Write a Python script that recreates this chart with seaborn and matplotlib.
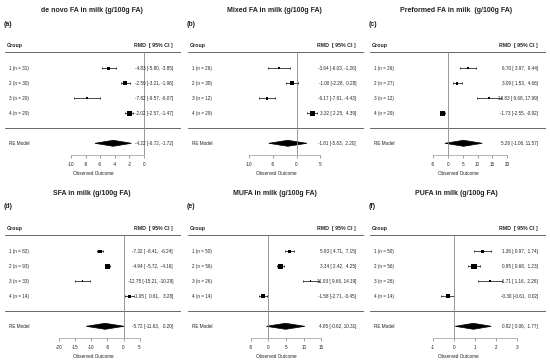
import numpy as np
import pandas as pd
import matplotlib
matplotlib.use("Agg")
import matplotlib.pyplot as plt
import matplotlib.transforms as mtransforms
from matplotlib.patches import Polygon
import seaborn as sns

sns.set_style("white")
plt.rcParams['font.family'] = ['Liberation Sans', 'DejaVu Sans']

# ---- data (RMD, 95% CI) ----
titles = ["de novo FA in milk (g/100g FA)", "Mixed FA in milk (g/100g FA)",
          "Preformed FA in milk  (g/100g FA)", "SFA in milk (g/100g FA)",
          "MUFA in milk (g/100g FA)", "PUFA in milk (g/100g FA)"]
tags = ["(a)", "(b)", "(c)", "(d)", "(e)", "(f)"]

n_denovo = [31, 30, 20, 29]
est_denovo = [-4.83, -2.59, -7.82, -2.02]
lo_denovo = [-5.80, -3.21, -9.57, -2.57]
hi_denovo = [-3.85, -1.96, -6.07, -1.47]
re_denovo = [-4.22, -6.72, -1.72]

n_mixed = [26, 30, 12, 29]
est_mixed = [-3.64, -1.00, -6.17, 3.32]
lo_mixed = [-6.03, -2.28, -7.91, 2.25]
hi_mixed = [-1.26, 0.28, -4.43, 4.39]
re_mixed = [-1.81, -5.83, 2.20]

n_pref = [26, 27, 12, 29]
est_pref = [6.70, 3.09, 13.83, -1.73]
lo_pref = [3.97, 1.53, 9.68, -2.55]
hi_pref = [9.44, 4.66, 17.99, -0.92]
re_pref = [5.26, -1.06, 11.57]

n_sfa = [82, 93, 33, 14]
est_sfa = [-7.32, -4.94, -12.75, 1.95]
lo_sfa = [-8.41, -5.72, -15.21, 0.61]
hi_sfa = [-6.24, -4.16, -10.29, 3.28]
re_sfa = [-5.72, -11.63, 0.20]

n_mufa = [50, 56, 26, 14]
est_mufa = [5.93, 3.34, 11.93, -1.58]
lo_mufa = [4.71, 2.42, 9.66, -2.71]
hi_mufa = [7.15, 4.25, 14.19, -0.45]
re_mufa = [4.85, -0.62, 10.31]

n_pufa = [50, 56, 26, 14]
est_pufa = [1.36, 0.95, 1.71, -0.30]
lo_pufa = [0.97, 0.68, 1.16, -0.61]
hi_pufa = [1.74, 1.23, 2.26, 0.02]
re_pufa = [0.92, 0.06, 1.77]

ticks_all = [[-10, -8, -6, -4, -2, 0], [-10, -5, 0, 5], [-5, 0, 5, 10, 15, 20],
             [-20, -15, -10, -5, 0, 5], [-5, 0, 5, 10, 15], [-1, 0, 1, 2, 3]]

panels = [
    (n_denovo, est_denovo, lo_denovo, hi_denovo, re_denovo),
    (n_mixed, est_mixed, lo_mixed, hi_mixed, re_mixed),
    (n_pref, est_pref, lo_pref, hi_pref, re_pref),
    (n_sfa, est_sfa, lo_sfa, hi_sfa, re_sfa),
    (n_mufa, est_mufa, lo_mufa, hi_mufa, re_mufa),
    (n_pufa, est_pufa, lo_pufa, hi_pufa, re_pufa),
]

# layout: x-limits chosen so the tick scale lines up with the text columns
xlims = [(-19.04, 5.07), (-22.75, 14.15), (-26.35, 33.1),
         (-36.9, 17.9), (-22.8, 27.05), (-3.98, 4.36)]

W, H = 550, 364
fig = plt.figure(figsize=(5.5, 3.64), dpi=100)

col_left = [5, 188, 370]
row_top = [0, 183]
ax_w = 176

txt = '#222222'
lcol = '#666666'


def fmt(v, w):
    return f"{v:{w}.2f}"


for i, (nn, est, lo, hi, re) in enumerate(panels):
    r, c = divmod(i, 3)
    x0 = col_left[c]
    y_top = row_top[r] + 38
    y_bot = row_top[r] + 155
    ax = fig.add_axes([x0 / W, 1 - y_bot / H, ax_w / W, (y_bot - y_top) / H])

    est = np.array(est); lo = np.array(lo); hi = np.array(hi)
    rows = np.arange(len(est))
    se = (hi - lo) / (2 * 1.96)
    wi = 1 / se ** 2
    cex = (wi - wi.min()) / (wi.max() - wi.min()) + 0.5
    area = (3.4 * cex * 0.72) ** 2
    df = pd.DataFrame({'est': est, 'row': rows, 'area': area})

    ax.errorbar(est, rows, xerr=[est - lo, hi - est], fmt='none',
                ecolor='black', elinewidth=0.5, capsize=1.0, capthick=0.5)
    sns.scatterplot(data=df, x='est', y='row', size='area',
                    sizes=(area.min(), area.max()), size_norm=(area.min(), area.max()),
                    marker='s', color='black', edgecolor='none', legend=False, ax=ax)

    # RE model diamond
    yr = 5.0
    h = 0.2
    ax.add_patch(Polygon([[re[1], yr], [re[0], yr - h], [re[2], yr], [re[0], yr + h]],
                         closed=True, facecolor='black', edgecolor='black', lw=0.5))

    ax.set_xlim(*xlims[i])
    ax.set_ylim(5.78, -2.02)

    ax.axhline(-1.09, color=lcol, lw=0.7)
    ax.axhline(3.98, color=lcol, lw=0.7)
    ax.axhline(5.78, color='#cccccc', lw=0.6)
    ax.vlines(0, -1.09, 5.78, color='#888888', lw=0.6)

    for s in ['top', 'right', 'left']:
        ax.spines[s].set_visible(False)
    ax.spines['bottom'].set_color('#999999')
    ax.spines['bottom'].set_linewidth(0.5)
    ax.spines['bottom'].set_bounds(ticks_all[i][0], ticks_all[i][-1])
    ax.set_xticks(ticks_all[i])
    ax.set_xticklabels([str(t) for t in ticks_all[i]])
    ax.tick_params(axis='x', direction='out', length=2, width=0.5, color='#777777',
                   labelsize=3.3, pad=3.2, labelcolor=txt, bottom=True)
    ax.set_yticks([])
    ax.set_xlabel('Observed Outcome', fontsize=3.3, color=txt, labelpad=2.5)
    ax.set_ylabel('')

    tr = mtransforms.blended_transform_factory(ax.transAxes, ax.transData)
    ax.text(0.01, -1.51, 'Group', transform=tr, fontsize=3.8, fontweight='bold',
            color=txt, ha='left', va='center')
    ax.text(0.955, -1.51, 'RMD  [ 95% CI ]', transform=tr, fontsize=3.8,
            fontweight='bold', color=txt, ha='right', va='center')

    w = max(len(f"{v:.2f}") for v in list(lo) + list(hi) + re[1:])
    for k in rows:
        ax.text(0.023, k, f"{k + 1} (n = {nn[k]})", transform=tr, fontsize=3.3,
                color=txt, ha='left', va='center')
        ax.text(0.955, k, f"{est[k]:.2f} [{fmt(lo[k], w)}, {fmt(hi[k], w)}]",
                transform=tr, fontsize=3.3, color=txt, ha='right', va='center')
    ax.text(0.023, yr, 'RE Model', transform=tr, fontsize=3.3, color=txt,
            ha='left', va='center')
    ax.text(0.955, yr, f"{re[0]:.2f} [{fmt(re[1], w)}, {fmt(re[2], w)}]",
            transform=tr, fontsize=3.3, color=txt, ha='right', va='center')

    # titles
    px_left = [0, 183, 365][c]
    fig.text((px_left + 91.5) / W, 1 - (row_top[r] + 10.5) / H, titles[i],
             fontsize=5, fontweight='bold', ha='center', va='center', color=txt)
    fig.text((px_left + 4) / W, 1 - (row_top[r] + 24) / H, tags[i],
             fontsize=5, fontweight='bold', ha='left', va='center', color=txt)

fig.savefig('out.png', dpi=100, facecolor='white')
